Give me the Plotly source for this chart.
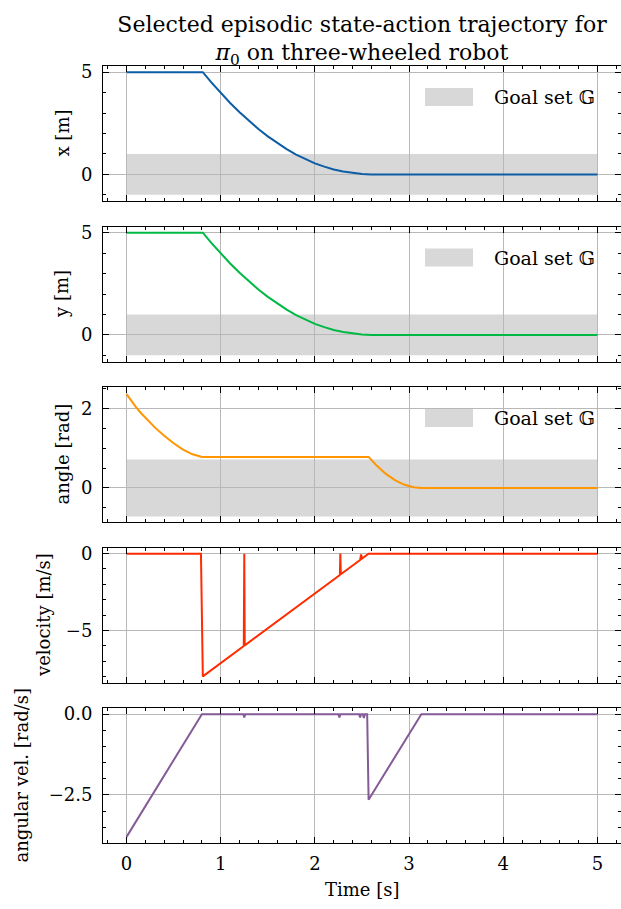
import plotly.graph_objects as go
from plotly.subplots import make_subplots

# ---- trajectory data -------------------------------------------------------
# position states (x and y follow the same path towards the origin)
t_pos = [0.0, 0.81, 0.9, 1.0, 1.1, 1.2, 1.3, 1.4, 1.5, 1.6, 1.7, 1.8, 1.9,
         2.0, 2.1, 2.2, 2.3, 2.4, 2.5, 2.6, 5.0]
x_pos = [5.0, 5.0, 4.50, 3.98, 3.49, 3.04, 2.61, 2.22, 1.86, 1.53, 1.24, 0.97,
         0.74, 0.54, 0.38, 0.24, 0.14, 0.07, 0.02, 0.0, 0.0]
y_pos = [5.0, 5.0, 4.50, 3.98, 3.49, 3.04, 2.61, 2.22, 1.86, 1.53, 1.24, 0.97,
         0.74, 0.54, 0.38, 0.24, 0.14, 0.07, 0.02, 0.0, 0.0]

# heading angle
t_angle = [0.0, 0.05, 0.1, 0.15, 0.2, 0.3, 0.4, 0.5, 0.6, 0.7, 0.8,
           2.57, 2.65, 2.75, 2.85, 2.95, 3.05, 3.13, 5.0]
angle = [2.37, 2.20, 2.04, 1.90, 1.77, 1.53, 1.32, 1.13, 0.97, 0.85, 0.785,
         0.785, 0.58, 0.36, 0.20, 0.08, 0.02, 0.0, 0.0]

# linear velocity action
t_vel = [0.0, 0.79, 0.81, 1.245, 1.25, 1.255, 2.265, 2.27, 2.275,
         2.48, 2.49, 2.50, 2.57, 5.0]
velocity = [0.0, 0.0, -8.0, -6.02, 0.0, -5.98, -1.39, 0.0, -1.34,
            -0.41, -0.05, -0.32, 0.0, 0.0]

# angular velocity action
t_omega = [0.0, 0.8, 1.24, 1.25, 1.26, 2.25, 2.26, 2.27, 2.47, 2.48, 2.49,
           2.51, 2.52, 2.53, 2.555, 2.57, 3.13, 5.0]
omega = [-3.8, 0.0, 0.0, -0.1, 0.0, 0.0, -0.1, 0.0, 0.0, -0.1, 0.0,
         0.0, -0.12, 0.0, 0.0, -2.65, 0.0, 0.0]

# goal set half-widths and time span of the episode
goal_x = 1.0
goal_y = 1.0
goal_angle = 0.72
t_span = [0.0, 5.0]

y_titles = ["x [m]", "y [m]", "angle [rad]", "velocity [m/s]", "angular vel. [rad/s]"]
colors = ["#0C5DA5", "#00B945", "#FF9500", "#FF2C00", "#845B97"]

# ---- figure ----------------------------------------------------------------
FONT = "DejaVu Serif"
W, H = 621, 909
ML, MR, MT, MB = 103, 0, 66, 66
PW = W - ML - MR
PH = H - MT - MB


def px_to_paper_x(px):
    return (px - ML) / PW


def px_to_paper_y(py):
    return (H - MB - py) / PH


fig = make_subplots(rows=5, cols=1, shared_xaxes=True, vertical_spacing=25.5 / PH)

series = [(t_pos, x_pos), (t_pos, y_pos), (t_angle, angle), (t_vel, velocity), (t_omega, omega)]
for i, (tt, vv) in enumerate(series):
    fig.add_trace(go.Scatter(x=tt, y=vv, mode="lines", line=dict(color=colors[i], width=2),
                             showlegend=False, hoverinfo="skip"), row=i + 1, col=1)

# goal bands (drawn under the grid) with their legend entries
for i, g in enumerate([goal_x, goal_y, goal_angle]):
    yr = "y" if i == 0 else f"y{i + 1}"
    xr = "x" if i == 0 else f"x{i + 1}"
    fig.add_shape(type="rect", xref=xr, yref=yr, x0=t_span[0], x1=t_span[1], y0=-g, y1=g,
                  fillcolor="#d8d8d8", line_width=0, layer="below")
    fig.add_shape(type="rect", xref=f"{xr} domain", yref=f"{yr} domain",
                  x0=0.6216, x1=0.7143, y0=0.7037, y1=0.837,
                  fillcolor="#d8d8d8", line_width=0, layer="above")
    fig.add_annotation(xref=f"{xr} domain", yref=f"{yr} domain", x=0.751, y=0.77,
                       xanchor="left", yanchor="middle", showarrow=False,
                       text="Goal set \U0001D53E", font=dict(family=FONT, size=19, color="black"))

ranges = [[-1.3, 5.3], [-1.3, 5.3], [-0.86, 2.55], [-8.4, 0.4], [-3.99, 0.19]]
dticks = [5, 5, 2, 5, 2.5]
minors = [1, 1, 0.5, 1, 0.5]
title_x = [62, 62, 62, 43, 21]

axis_common = dict(showline=True, linecolor="black", linewidth=1, mirror="allticks",
                   ticks="inside", ticklen=6, tickwidth=1, tickcolor="black",
                   showgrid=True, gridcolor="#b8b8b8", gridwidth=1, zeroline=False,
                   tickfont=dict(family=FONT, size=18, color="black"))

for i in range(5):
    n = "" if i == 0 else str(i + 1)
    fig.layout[f"yaxis{n}"].update(
        range=ranges[i], tick0=0, dtick=dticks[i], ticklabelstandoff=6,
        minor=dict(ticks="inside", ticklen=3, tickwidth=1, tickcolor="black", dtick=minors[i]),
        tickformat=".1f" if i == 4 else None, **axis_common)
    fig.layout[f"xaxis{n}"].update(
        range=[-0.25, 5.25], tick0=0, dtick=1, showticklabels=(i == 4), ticklabelstandoff=4,
        minor=dict(ticks="inside", ticklen=3, tickwidth=1, tickcolor="black", dtick=0.2),
        **axis_common)
    fig.add_annotation(xref="paper", yref=f"y{n} domain", x=px_to_paper_x(title_x[i]), y=0.5,
                       xanchor="center", yanchor="middle", textangle=-90, showarrow=False,
                       text=y_titles[i], font=dict(family=FONT, size=18, color="black"))

fig.add_annotation(xref="x5 domain", yref="paper", x=0.5, y=px_to_paper_y(889),
                   xanchor="center", yanchor="middle", showarrow=False,
                   text="Time [s]", font=dict(family=FONT, size=18, color="black"))

fig.update_layout(
    width=W, height=H, margin=dict(l=ML, r=MR, t=MT, b=MB),
    paper_bgcolor="white", plot_bgcolor="white",
    title=dict(text="Selected episodic state-action trajectory for<br><i>π</i><sub>0</sub> on three-wheeled robot",
               x=px_to_paper_x(362), xref="paper", xanchor="center",
               y=1 - 31.5 / H, yref="container", yanchor="middle",
               font=dict(family=FONT, size=22, color="black")),
    showlegend=False,
)

fig.write_html("out.html")
